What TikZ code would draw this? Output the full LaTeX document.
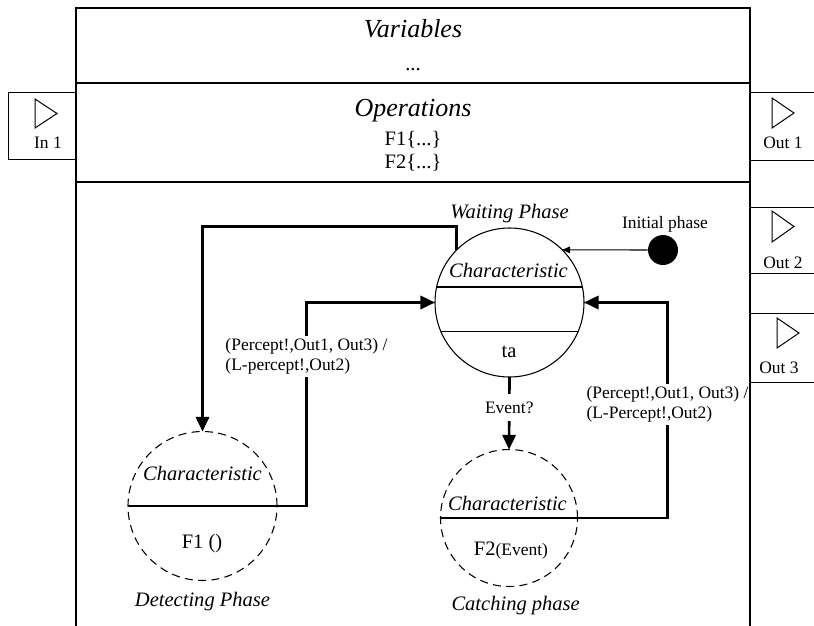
\documentclass[tikz,border=0pt]{standalone}
\usepackage{fontspec}
\setmainfont{Liberation Serif}
\usetikzlibrary{arrows.meta,positioning}
\tikzset{
  frame/.style={draw,line width=1.1pt},
  portbox/.style={draw,line width=0.75pt,inner sep=0pt,outer sep=0pt,anchor=north west},
  porttip/.style={draw,line width=0.75pt,line join=miter},
  head/.style={inner sep=0pt,font=\fontsize{19.5}{23}\selectfont\itshape},
  txt/.style={inner sep=0pt,font=\fontsize{15.4}{18}\selectfont},
  note/.style={inner sep=0pt,font=\fontsize{13.1}{14.6}\selectfont},
  phase/.style={circle,draw,line width=0.8pt,inner sep=0pt,outer sep=0pt},
  subphase/.style={phase,dash pattern=on 6pt off 4pt},
  chord/.style={draw,line width=0.8pt},
  flow/.style={-{Triangle[length=11pt,width=10pt]},line width=2pt},
  start/.style={-{Triangle[length=6pt,width=5pt]},line width=0.8pt},
  guard/.style={note,fill=white,align=left,inner xsep=1pt,inner ysep=2pt}
}
\begin{document}
\begin{tikzpicture}[x=0.75pt,y=-0.75pt]
  \useasboundingbox (0,0) rectangle (814,625);
  % ports
  \node[portbox,minimum width=51pt,minimum height=50.25pt] (in1) at (8,92) {};
  \node[portbox,minimum width=60pt,minimum height=51pt] (out1) at (750,92) {};
  \node[portbox,minimum width=60pt,minimum height=49.5pt] (out2) at (750,207) {};
  \node[portbox,minimum width=60pt,minimum height=51.75pt] (out3) at (750,313) {};
  \draw[porttip] (35,99) -- (57,113.5) -- (35,128) -- cycle;
  \draw[porttip] (772,98) -- (794,113) -- (772,128) -- cycle;
  \draw[porttip] (772,211) -- (794,226.5) -- (772,242) -- cycle;
  \draw[porttip] (777,318) -- (799,333) -- (777,348) -- cycle;
  \node[note,anchor=base] (in1lbl) at (48,148) {In 1};
  \node[note,anchor=base] (out1lbl) at (783,148) {Out 1};
  \node[note,anchor=base] (out2lbl) at (783,268) {Out 2};
  \node[note,anchor=base] (out3lbl) at (779,373) {Out 3};
  % compartments
  \node[head,anchor=base] (vars) at (413,37.7) {Variables};
  \node[txt,anchor=base] (varsdots) at (413,70) {...};
  \node[head,anchor=base] (ops) at (413,116) {Operations};
  \node[txt,anchor=base] (opf1) at (413,145) {F1\{...\}};
  \node[txt,anchor=base] (opf2) at (413,168) {F2\{...\}};
  % phases
  \node[phase,minimum size=111.75pt] (wait) at (509.5,302.5) {};
  \node[subphase,minimum size=111.75pt] (detect) at (202.5,506) {};
  \node[subphase,minimum size=102.75pt] (catch) at (509,518) {};
  \draw[chord] (wait.168) -- (wait.12);
  \draw[chord] (wait.203) -- (wait.337);
  \draw[chord] (detect.west) -- (detect.east);
  \draw[chord] (catch.west) -- (catch.east);
  \node[txt,font=\fontsize{15.4}{18}\selectfont\itshape,above=4pt of wait] (waitname) {Waiting Phase};
  \node[txt,font=\fontsize{15.4}{18}\selectfont\itshape,below=8.6pt of detect] (detectname) {Detecting Phase};
  \node[txt,font=\fontsize{15.4}{18}\selectfont\itshape,below=7pt of catch,xshift=5pt] (catchname) {Catching phase};
  \node[txt,anchor=base] (waitchar) at (508.5,277) {\itshape Characteristic};
  \node[txt,anchor=base] (waitta) at (509,357) {ta};
  \node[txt,anchor=base] (detectchar) at (202.5,480) {\itshape Characteristic};
  \node[txt,anchor=base] (detectop) at (202,548) {F1 ()};
  \node[txt,anchor=base] (catchchar) at (507.5,510.7) {\itshape Characteristic};
  \node[txt,anchor=base] (catchop) at (511,555) {F2\fontsize{13.1}{15}\selectfont(Event)};
  % initial phase
  \node[circle,fill,minimum size=22.5pt,inner sep=0pt] (init) at (663,250) {};
  \node[note,anchor=base] (initlbl) at (665,228) {Initial phase};
  \draw[start] (init.west) -- (wait.45);
  % transitions
  \draw[flow] (wait.135) -- ++(0,-23) -| (detect.north);
  \draw[flow] (detect.east) -- ++(29.5,0) |- node[guard,pos=0.368] {(Percept!,Out1, Out3) /\\(L-percept!,Out2)} (wait.west);
  \draw[flow] (catch.east) -- ++(90,0) |- node[guard,pos=0.264] {(Percept!,Out1, Out3) /\\(L-Percept!,Out2)} (wait.east);
  \draw[flow] (wait.south) -- node[guard,pos=0.42,inner ysep=6pt] {Event?} (catch.north);
  % class frame, on top of the guards
  \draw[frame] (76,630) -- (76,8) -- (750,8) -- (750,630);
  \draw[frame] (76,83) -- (750,83);
  \draw[frame] (76,182) -- (750,182);
\end{tikzpicture}
\end{document}
